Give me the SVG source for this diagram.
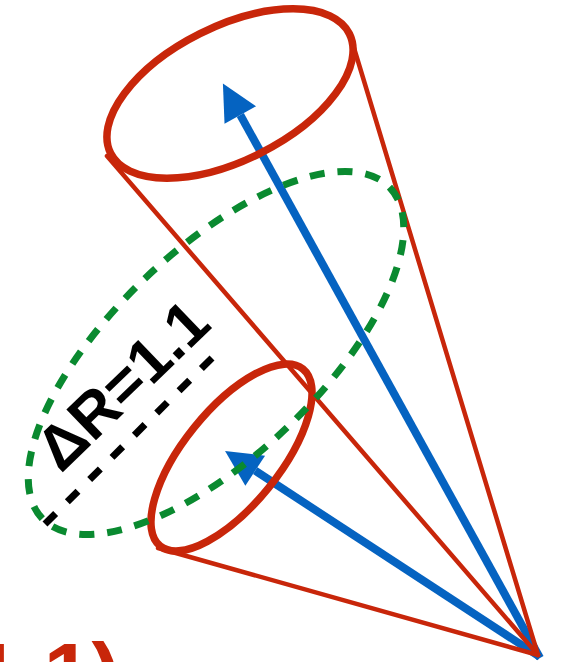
<svg xmlns="http://www.w3.org/2000/svg" width="562" height="662" viewBox="0 0 562 662">
<style>
.red{fill:none;stroke:#C8260A;stroke-linecap:round}
.ell{stroke-width:7.5}
.ln{stroke-width:4.5}
.blue{fill:none;stroke:#0563C1;stroke-width:8}
.green{fill:none;stroke:#0A8A30;stroke-width:7;stroke-dasharray:15 13}
.black{fill:none;stroke:#000;stroke-width:7;stroke-dasharray:15 16.5}
.lbl{font-family:"Liberation Sans",Arial,sans-serif;font-weight:bold}
</style>
<defs>
<marker id="ah" markerUnits="strokeWidth" markerWidth="5" markerHeight="5" viewBox="0 -2.5 4.6 5" refX="0" refY="0" orient="auto">
<path d="M0,-2.25 L4.5,0 L0,2.25 z" fill="#0563C1"/>
</marker>
</defs>
<g id="arrows">
<line class="blue" x1="540" y1="658" x2="240.3" y2="115" marker-end="url(#ah)"/>
<line class="blue" x1="540" y1="657" x2="255.2" y2="470.7" marker-end="url(#ah)"/>
</g>
<g id="cone-lines">
<line class="red ln" x1="107" y1="156" x2="538" y2="655"/>
<line class="red ln" x1="354" y1="48" x2="538" y2="655"/>
<line class="red ln" x1="158" y1="548" x2="538" y2="655"/>
</g>
<g id="top-ellipse">
<ellipse class="red ell" cx="230" cy="93.5" rx="133.5" ry="67" transform="rotate(-26.6 230 93.5)"/>
</g>
<g id="small-ellipse">
<ellipse class="red ell" cx="231.5" cy="457.5" rx="113.7" ry="47.9" transform="rotate(-51.1 231.5 457.5)"/>
</g>
<g id="shell">
<ellipse class="green" cx="216" cy="353" rx="240" ry="103" transform="rotate(-43.6 216 353)"/>
</g>
<g id="delta-r">
<line class="black" x1="45" y1="524" x2="218" y2="352"/>
<text class="lbl" x="61" y="474" font-size="62" fill="#000" transform="rotate(-44 61 474)">ΔR=1.1</text>
</g>
<g id="bottom-label">
<text class="lbl" x="-56.6" y="703" font-size="86" fill="#C8260A">(1.1)</text>
</g>
</svg>
